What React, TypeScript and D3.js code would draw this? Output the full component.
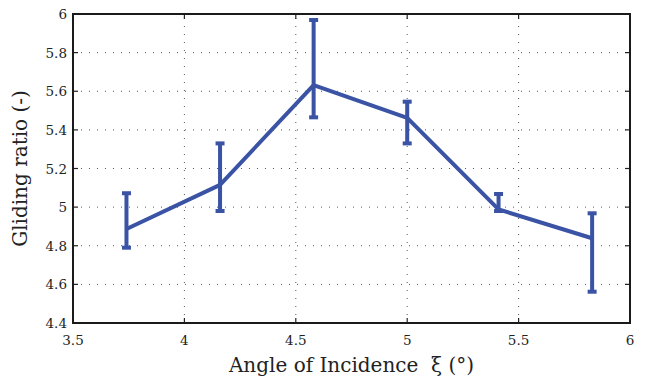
import React, { useEffect, useRef } from "react";
import * as d3 from "d3";

// data
const angles = [3.74, 4.16, 4.58, 5.0, 5.41, 5.83];
const ratios = [4.887, 5.115, 5.632, 5.462, 4.988, 4.839];
const upper = [5.072, 5.33, 5.969, 5.546, 5.068, 4.968];
const lower = [4.79, 4.98, 5.465, 5.33, 4.98, 4.562];
const xTicks = [3.5, 4, 4.5, 5, 5.5, 6];
const yTicks = [4.4, 4.6, 4.8, 5, 5.2, 5.4, 5.6, 5.8, 6];

const W = 645;
const H = 379;
const margin = { left: 73, right: 15, top: 14, bottom: 56 };
const BLUE = "#3a53a4";
const FONT = "'DejaVu Serif', 'Liberation Serif', serif";

const App = () => {
  const ref = useRef(null);

  useEffect(() => {
    const svg = d3.select(ref.current);
    svg.selectAll("*").remove();

    const x = d3.scaleLinear().domain([3.5, 6]).range([margin.left, W - margin.right]);
    const y = d3.scaleLinear().domain([4.4, 6]).range([H - margin.bottom, margin.top]);
    const [x0, x1] = x.range();
    const [y0, y1] = y.range();

    // dotted grid
    const grid = svg.append("g").attr("stroke", "#555").attr("stroke-width", 1).attr("stroke-dasharray", "1,7");
    grid
      .selectAll("line.gx")
      .data(xTicks.slice(1, -1))
      .join("line")
      .attr("x1", (d) => x(d))
      .attr("x2", (d) => x(d))
      .attr("y1", y0)
      .attr("y2", y1);
    grid
      .selectAll("line.gy")
      .data(yTicks.slice(1, -1))
      .join("line")
      .attr("x1", x0)
      .attr("x2", x1)
      .attr("y1", (d) => y(d))
      .attr("y2", (d) => y(d));

    // inward ticks on all four sides
    const ticks = svg.append("g").attr("stroke", "#222").attr("stroke-width", 1.2);
    xTicks.forEach((t) => {
      ticks.append("line").attr("x1", x(t)).attr("x2", x(t)).attr("y1", y0).attr("y2", y0 - 5);
      ticks.append("line").attr("x1", x(t)).attr("x2", x(t)).attr("y1", y1).attr("y2", y1 + 5);
    });
    yTicks.forEach((t) => {
      ticks.append("line").attr("x1", x0).attr("x2", x0 + 5).attr("y1", y(t)).attr("y2", y(t));
      ticks.append("line").attr("x1", x1).attr("x2", x1 - 5).attr("y1", y(t)).attr("y2", y(t));
    });

    // box
    svg
      .append("rect")
      .attr("x", x0)
      .attr("y", y1)
      .attr("width", x1 - x0)
      .attr("height", y0 - y1)
      .attr("fill", "none")
      .attr("stroke", "#1a1a1a")
      .attr("stroke-width", 2);

    // tick labels
    svg
      .append("g")
      .selectAll("text")
      .data(xTicks)
      .join("text")
      .attr("x", (d) => x(d))
      .attr("y", y0 + 22)
      .attr("text-anchor", "middle")
      .attr("font-family", FONT)
      .attr("font-size", 13.5)
      .attr("fill", "#222")
      .text((d) => `${d}`);
    svg
      .append("g")
      .selectAll("text")
      .data(yTicks)
      .join("text")
      .attr("x", x0 - 6)
      .attr("y", (d) => y(d) + 5)
      .attr("text-anchor", "end")
      .attr("font-family", FONT)
      .attr("font-size", 13.5)
      .attr("fill", "#222")
      .text((d) => `${d}`);

    // titles
    svg
      .append("text")
      .attr("x", (x0 + x1) / 2)
      .attr("y", H - 7)
      .attr("text-anchor", "middle")
      .attr("font-family", FONT)
      .style("white-space", "pre")
      .attr("font-size", 20)
      .attr("fill", "#222")
      .text("Angle of Incidence  \u03be (\u00b0)");
    svg
      .append("text")
      .attr("transform", `translate(27,${(y0 + y1) / 2}) rotate(-90)`)
      .attr("text-anchor", "middle")
      .attr("font-family", FONT)
      .attr("font-size", 20)
      .attr("fill", "#222")
      .text("Gliding ratio (-)");

    // error bars
    const eb = svg.append("g").attr("stroke", BLUE).attr("fill", "none");
    angles.forEach((a, i) => {
      eb.append("line")
        .attr("x1", x(a))
        .attr("x2", x(a))
        .attr("y1", y(upper[i]))
        .attr("y2", y(lower[i]))
        .attr("stroke-width", 4);
      [upper[i], lower[i]].forEach((v) => {
        eb.append("line")
          .attr("x1", x(a) - 4.5)
          .attr("x2", x(a) + 4.5)
          .attr("y1", y(v))
          .attr("y2", y(v))
          .attr("stroke-width", 4);
      });
    });

    // main line
    const line = d3
      .line<number>()
      .x((d, i) => x(angles[i]))
      .y((d) => y(d));
    svg
      .append("path")
      .datum(ratios)
      .attr("d", line)
      .attr("fill", "none")
      .attr("stroke", BLUE)
      .attr("stroke-width", 4)
      .attr("stroke-linejoin", "round");
  }, []);

  return (
    <svg
      ref={ref}
      width={W}
      height={H}
      style={{ position: "absolute", left: 0, top: 0, background: "#fff" }}
    ></svg>
  );
};

export default App;
